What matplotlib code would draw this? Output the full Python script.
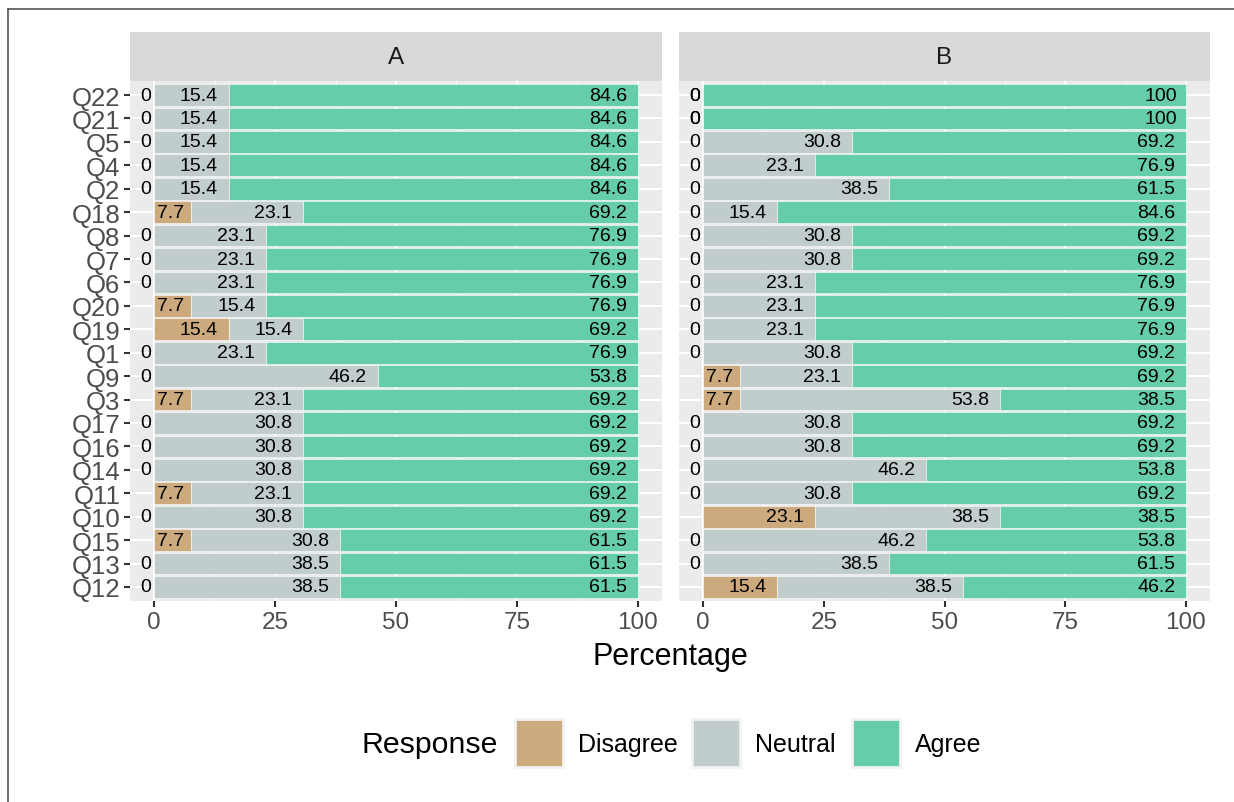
import matplotlib
matplotlib.use("Agg")
import matplotlib.pyplot as plt
from matplotlib.patches import Rectangle
from matplotlib.lines import Line2D
from matplotlib.textpath import TextPath
from matplotlib.font_manager import FontProperties

plt.rcParams["font.family"] = ["Liberation Sans", "DejaVu Sans"]

# Questions, listed top to bottom
questions = ["Q22", "Q21", "Q5", "Q4", "Q2", "Q18", "Q8", "Q7", "Q6", "Q20", "Q19",
             "Q1", "Q9", "Q3", "Q17", "Q16", "Q14", "Q11", "Q10", "Q15", "Q13", "Q12"]

responses = ["Disagree", "Neutral", "Agree"]
colors = {"Disagree": "#CDAA7D", "Neutral": "#C1CDCD", "Agree": "#66CDAA"}

# Group A percentages
a_disagree = [0, 0, 0, 0, 0, 7.7, 0, 0, 0, 7.7, 15.4, 0, 0, 7.7, 0, 0, 0, 7.7, 0, 7.7, 0, 0]
a_neutral = [15.4, 15.4, 15.4, 15.4, 15.4, 23.1, 23.1, 23.1, 23.1, 15.4, 15.4, 23.1, 46.2,
             23.1, 30.8, 30.8, 30.8, 23.1, 30.8, 30.8, 38.5, 38.5]
a_agree = [84.6, 84.6, 84.6, 84.6, 84.6, 69.2, 76.9, 76.9, 76.9, 76.9, 69.2, 76.9, 53.8,
           69.2, 69.2, 69.2, 69.2, 69.2, 69.2, 61.5, 61.5, 61.5]

# Group B percentages
b_disagree = [0, 0, 0, 0, 0, 0, 0, 0, 0, 0, 0, 0, 7.7, 7.7, 0, 0, 0, 0, 23.1, 0, 0, 15.4]
b_neutral = [0, 0, 30.8, 23.1, 38.5, 15.4, 30.8, 30.8, 23.1, 23.1, 23.1, 30.8, 23.1, 53.8,
             30.8, 30.8, 46.2, 30.8, 38.5, 46.2, 38.5, 38.5]
b_agree = [100, 100, 69.2, 76.9, 61.5, 84.6, 69.2, 69.2, 76.9, 76.9, 76.9, 69.2, 69.2, 38.5,
           69.2, 69.2, 53.8, 69.2, 38.5, 53.8, 61.5, 46.2]

x_ticks = [0, 25, 50, 75, 100]

W, H = 1234, 803
fig = plt.figure(figsize=(W / 100, H / 100), dpi=100)
fig.patch.set_facecolor("white")


def frac(x0, y0, x1, y1):
    return [x0 / W, 1 - y1 / H, (x1 - x0) / W, (y1 - y0) / H]


label_fp = FontProperties(family="Liberation Sans", size=14)


def text_width(s):
    return TextPath((0, 0), s, prop=label_fp).get_extents().width


def draw_panel(ax, sax, name, dis, neu, agr, show_y):
    n = len(questions)
    ypos = [n - i for i in range(n)]
    ax.set_facecolor("#EBEBEB")
    ax.set_xlim(-5, 105)
    ax.set_ylim(0.4, n + 0.6)
    for s in ax.spines.values():
        s.set_visible(False)
    ax.set_xticks(x_ticks)
    ax.set_xticks([12.5, 37.5, 62.5, 87.5], minor=True)
    ax.set_yticks(ypos)
    ax.grid(True, which="major", color="white", lw=1.5)
    ax.grid(True, which="minor", axis="x", color="white", lw=0.75)
    ax.set_axisbelow(True)
    ax.tick_params(axis="x", which="minor", length=0)
    ax.tick_params(axis="both", which="major", length=4.5, width=1.5, color="#333333",
                   labelcolor="#4D4D4D", pad=2.5)
    ax.tick_params(axis="x", labelsize=17.5)
    ax.tick_params(axis="y", labelsize=18.5)
    ax.set_xticklabels([str(t) for t in x_ticks])
    if show_y:
        ax.set_yticklabels(questions)
    else:
        ax.tick_params(axis="y", length=0, labelleft=False)

    series = [dis, neu, agr]
    left = [0.0] * n
    for resp, vals in zip(responses, series):
        ax.barh(ypos, vals, left=left, height=0.93, color=colors[resp],
                edgecolor="white", linewidth=0.4, zorder=2)
        for y, l, v in zip(ypos, left, vals):
            lab = f"{v:g}"
            ax.annotate(lab, xy=(l + v, y), xytext=(-0.3 * text_width(lab), 0),
                        textcoords="offset points", ha="right", va="center",
                        fontproperties=label_fp, color="black", zorder=3)
        left = [l + v for l, v in zip(left, vals)]

    sax.set_facecolor("#D9D9D9")
    sax.set_xticks([])
    sax.set_yticks([])
    for s in sax.spines.values():
        s.set_visible(False)
    sax.text(0.5, 0.5, name, ha="center", va="center", fontsize=17.5, color="#1A1A1A",
             transform=sax.transAxes)


axA = fig.add_axes(frac(130, 82, 662, 602))
sA = fig.add_axes(frac(130, 33, 662, 82))
axB = fig.add_axes(frac(679, 82, 1210, 602))
sB = fig.add_axes(frac(679, 33, 1210, 82))

draw_panel(axA, sA, "A", a_disagree, a_neutral, a_agree, True)
draw_panel(axB, sB, "B", b_disagree, b_neutral, b_agree, False)

fig.text(670 / W, 1 - 657 / H, "Percentage", ha="center", va="center", fontsize=22,
         color="black")

# Legend
fig.text(362 / W, 1 - 745 / H, "Response", ha="left", va="center", fontsize=21.8, color="black")
key_x = [515, 692, 852]
lab_x = [578, 755, 915]
for resp, kx, lx in zip(responses, key_x, lab_x):
    fig.add_artist(Rectangle((kx / W, 1 - 768 / H), 48 / W, 48 / H, transform=fig.transFigure,
                             facecolor=colors[resp], edgecolor="#F2F2F2", linewidth=2))
    fig.text(lx / W, 1 - 745 / H, resp, ha="left", va="center", fontsize=18, color="black")

# Page frame
fig.add_artist(Line2D([7.5 / W, 7.5 / W], [0, 1 - 9.5 / H], transform=fig.transFigure,
                      color="#555555", lw=1.2))
fig.add_artist(Line2D([7.5 / W, 1], [1 - 9.5 / H, 1 - 9.5 / H], transform=fig.transFigure,
                      color="#555555", lw=1.2))

fig.savefig("out.png", dpi=100)
